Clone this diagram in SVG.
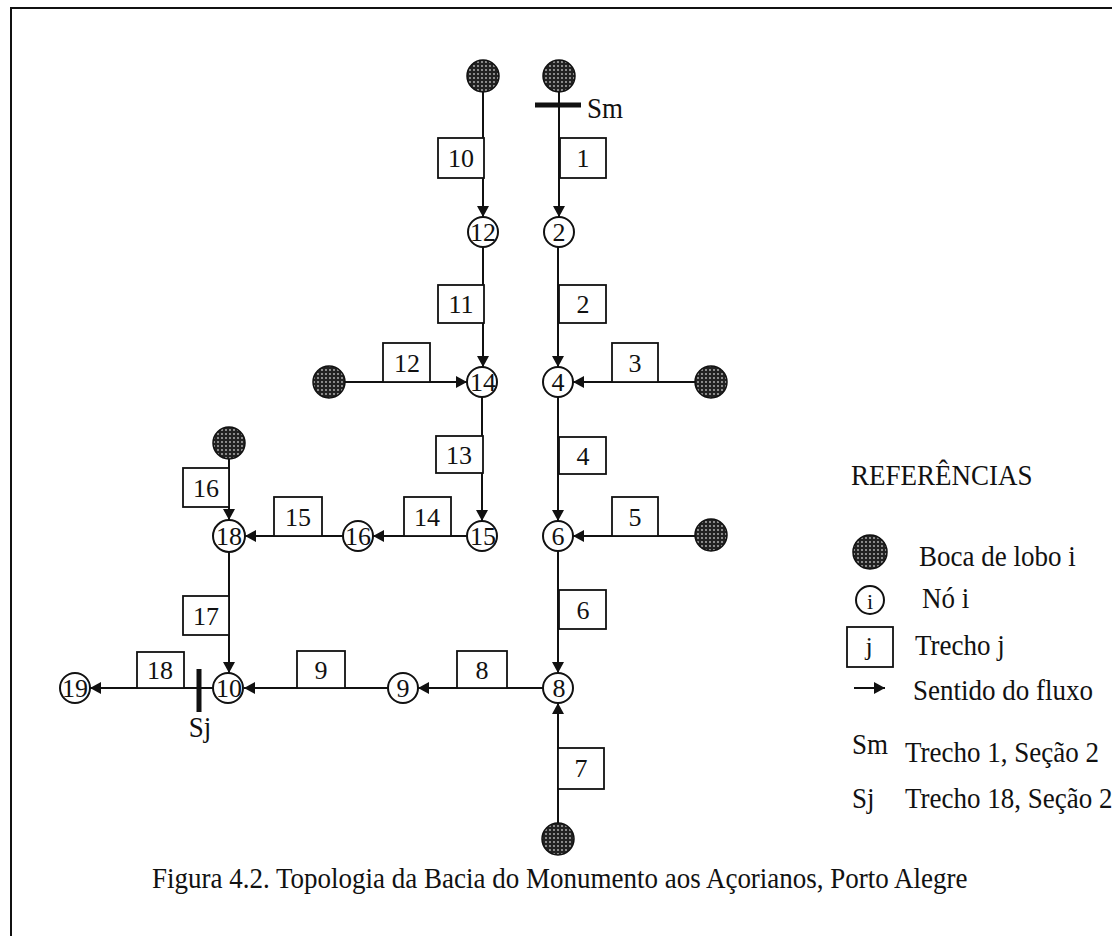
<svg xmlns="http://www.w3.org/2000/svg" width="1120" height="936" viewBox="0 0 1120 936">
<style>
  text { font-family: "Liberation Serif", "Times New Roman", serif; fill: #111; }
  .num { font-size: 26px; text-anchor: middle; }
  .lbl { font-size: 27px; }
  .node { fill: #fff; stroke: #111; stroke-width: 2; }
  .inlet { fill: url(#dots); stroke: #111; stroke-width: 1.5; }
  .box { fill: #fff; stroke: #111; stroke-width: 1.8; }
  .edge { fill: none; stroke: #111; stroke-width: 2; }
  .bar { stroke: #111; stroke-width: 5; }
  .frame { stroke: #111; stroke-width: 2; fill: none; }
</style>
<defs>
  <pattern id="dots" width="4" height="4" patternUnits="userSpaceOnUse">
    <rect width="4" height="4" fill="#222"/>
    <circle cx="2" cy="2" r="0.9" fill="#bbb"/>
  </pattern>
  <marker id="arr" markerUnits="userSpaceOnUse" markerWidth="12" markerHeight="12" refX="11" refY="6" orient="auto">
    <path d="M0,0 L11,6 L0,12 z" fill="#111"/>
  </marker>
</defs>
<rect width="1120" height="936" fill="#fff"/>
<path class="frame" d="M11,936 L11,8 L1112,8"/>

<g id="connectors">
  <line class="edge" x1="483" y1="92" x2="483" y2="217" marker-end="url(#arr)"/>
  <line class="edge" x1="559" y1="92" x2="559" y2="217" marker-end="url(#arr)"/>
  <line class="edge" x1="483" y1="247" x2="483" y2="367" marker-end="url(#arr)"/>
  <line class="edge" x1="558" y1="247" x2="558" y2="367" marker-end="url(#arr)"/>
  <line class="edge" x1="345" y1="382" x2="467" y2="382" marker-end="url(#arr)"/>
  <line class="edge" x1="695" y1="382" x2="573" y2="382" marker-end="url(#arr)"/>
  <line class="edge" x1="482" y1="397" x2="482" y2="521" marker-end="url(#arr)"/>
  <line class="edge" x1="558" y1="397" x2="558" y2="521" marker-end="url(#arr)"/>
  <line class="edge" x1="695" y1="536" x2="573" y2="536" marker-end="url(#arr)"/>
  <line class="edge" x1="467" y1="536" x2="373" y2="536" marker-end="url(#arr)"/>
  <line class="edge" x1="343" y1="536" x2="245" y2="536" marker-end="url(#arr)"/>
  <line class="edge" x1="229" y1="459" x2="229" y2="520" marker-end="url(#arr)"/>
  <line class="edge" x1="229" y1="552" x2="229" y2="673" marker-end="url(#arr)"/>
  <line class="edge" x1="558" y1="551" x2="558" y2="673" marker-end="url(#arr)"/>
  <line class="edge" x1="558" y1="823" x2="558" y2="703" marker-end="url(#arr)"/>
  <line class="edge" x1="543" y1="688" x2="418" y2="688" marker-end="url(#arr)"/>
  <line class="edge" x1="388" y1="688" x2="244" y2="688" marker-end="url(#arr)"/>
  <line class="edge" x1="213" y1="688" x2="90" y2="688" marker-end="url(#arr)"/>
</g>

<g id="sections">
  <line class="bar" x1="535" y1="105" x2="581" y2="105"/>
  <text class="lbl" transform="translate(587,118) scale(1,1.08)">Sm</text>
  <line class="bar" x1="199" y1="669" x2="199" y2="712"/>
  <text class="lbl" transform="translate(200,737) scale(1,1.08)" text-anchor="middle">Sj</text>
</g>

<g id="inlets">
  <circle id="inlet-a" class="inlet" cx="483" cy="76" r="16"/>
  <circle id="inlet-b" class="inlet" cx="559" cy="76" r="16"/>
  <circle id="inlet-c" class="inlet" cx="329" cy="382" r="16"/>
  <circle id="inlet-d" class="inlet" cx="711" cy="382" r="16"/>
  <circle id="inlet-e" class="inlet" cx="711" cy="535" r="16"/>
  <circle id="inlet-f" class="inlet" cx="229" cy="443" r="16"/>
  <circle id="inlet-g" class="inlet" cx="558" cy="839" r="16"/>
</g>

<g id="trechos">
  <g id="t10"><rect class="box" x="438" y="138" width="46" height="40"/><text class="num" x="461" y="167">10</text></g>
  <g id="t1"><rect class="box" x="560" y="138" width="46" height="40"/><text class="num" x="583" y="167">1</text></g>
  <g id="t11"><rect class="box" x="438" y="285" width="46" height="38"/><text class="num" x="461" y="313">11</text></g>
  <g id="t2"><rect class="box" x="559" y="285" width="47" height="38"/><text class="num" x="583" y="313">2</text></g>
  <g id="t12"><rect class="box" x="383" y="343" width="47" height="39"/><text class="num" x="407" y="372">12</text></g>
  <g id="t3"><rect class="box" x="612" y="343" width="46" height="39"/><text class="num" x="635" y="372">3</text></g>
  <g id="t13"><rect class="box" x="436" y="436" width="47" height="37"/><text class="num" x="459" y="464">13</text></g>
  <g id="t4"><rect class="box" x="559" y="437" width="47" height="37"/><text class="num" x="583" y="465">4</text></g>
  <g id="t14"><rect class="box" x="404" y="497" width="47" height="39"/><text class="num" x="427" y="526">14</text></g>
  <g id="t5"><rect class="box" x="612" y="497" width="46" height="39"/><text class="num" x="635" y="526">5</text></g>
  <g id="t15"><rect class="box" x="274" y="497" width="48" height="39"/><text class="num" x="298" y="526">15</text></g>
  <g id="t16"><rect class="box" x="183" y="468" width="46" height="39"/><text class="num" x="206" y="497">16</text></g>
  <g id="t6"><rect class="box" x="559" y="590" width="47" height="39"/><text class="num" x="583" y="619">6</text></g>
  <g id="t17"><rect class="box" x="183" y="596" width="46" height="39"/><text class="num" x="206" y="625">17</text></g>
  <g id="t9"><rect class="box" x="297" y="651" width="48" height="37"/><text class="num" x="321" y="679">9</text></g>
  <g id="t8"><rect class="box" x="457" y="651" width="50" height="37"/><text class="num" x="482" y="679">8</text></g>
  <g id="t18"><rect class="box" x="137" y="652" width="47" height="36"/><text class="num" x="160" y="679">18</text></g>
  <g id="t7"><rect class="box" x="558" y="748" width="46" height="41"/><text class="num" x="581" y="777">7</text></g>
</g>

<g id="nodes">
  <g id="n12"><circle class="node" cx="483" cy="232" r="15"/><text class="num" x="483" y="241">12</text></g>
  <g id="n2"><circle class="node" cx="559" cy="232" r="15"/><text class="num" x="559" y="241">2</text></g>
  <g id="n14"><circle class="node" cx="482" cy="382" r="15"/><text class="num" x="483" y="391">14</text></g>
  <g id="n4"><circle class="node" cx="558" cy="382" r="15"/><text class="num" x="558" y="391">4</text></g>
  <g id="n15"><circle class="node" cx="482" cy="536" r="15"/><text class="num" x="483" y="545">15</text></g>
  <g id="n6"><circle class="node" cx="558" cy="536" r="15"/><text class="num" x="558" y="545">6</text></g>
  <g id="n16"><circle class="node" cx="358" cy="536" r="15"/><text class="num" x="358" y="545">16</text></g>
  <g id="n18"><circle class="node" cx="229" cy="536" r="16"/><text class="num" x="229" y="545">18</text></g>
  <g id="n10"><circle class="node" cx="228" cy="688" r="15"/><text class="num" x="229" y="697">10</text></g>
  <g id="n9"><circle class="node" cx="403" cy="688" r="15"/><text class="num" x="403" y="697">9</text></g>
  <g id="n8"><circle class="node" cx="558" cy="688" r="15"/><text class="num" x="559" y="697">8</text></g>
  <g id="n19"><circle class="node" cx="75" cy="688" r="15"/><text class="num" x="75" y="697">19</text></g>
</g>

<g id="legend">
  <text class="lbl" transform="translate(851,485) scale(1,1.08)">REFERÊNCIAS</text>
  <circle class="inlet" cx="870" cy="552" r="17"/>
  <text class="lbl" transform="translate(919,566) scale(1,1.08)">Boca de lobo i</text>
  <circle class="node" cx="870" cy="600" r="14"/>
  <text class="num" x="870" y="609" style="font-size:22px">i</text>
  <text class="lbl" transform="translate(922,608) scale(1,1.08)">Nó i</text>
  <rect class="box" x="847" y="627" width="46" height="40"/>
  <text class="num" x="869" y="655">j</text>
  <text class="lbl" transform="translate(915,655) scale(1,1.08)">Trecho j</text>
  <line class="edge" x1="854" y1="688" x2="885" y2="688" marker-end="url(#arr)"/>
  <text class="lbl" transform="translate(913,700) scale(1,1.08)">Sentido do fluxo</text>
  <text class="lbl" transform="translate(852,754) scale(1,1.08)">Sm</text>
  <text class="lbl" transform="translate(905,762) scale(1,1.08)">Trecho 1, Seção 2</text>
  <text class="lbl" transform="translate(852,808) scale(1,1.08)">Sj</text>
  <text class="lbl" transform="translate(905,808) scale(1,1.08)">Trecho 18, Seção 2</text>
</g>

<text class="lbl" transform="translate(152,888) scale(1,1.08)">Figura 4.2. Topologia da Bacia do Monumento aos Açorianos, Porto Alegre</text>
</svg>
